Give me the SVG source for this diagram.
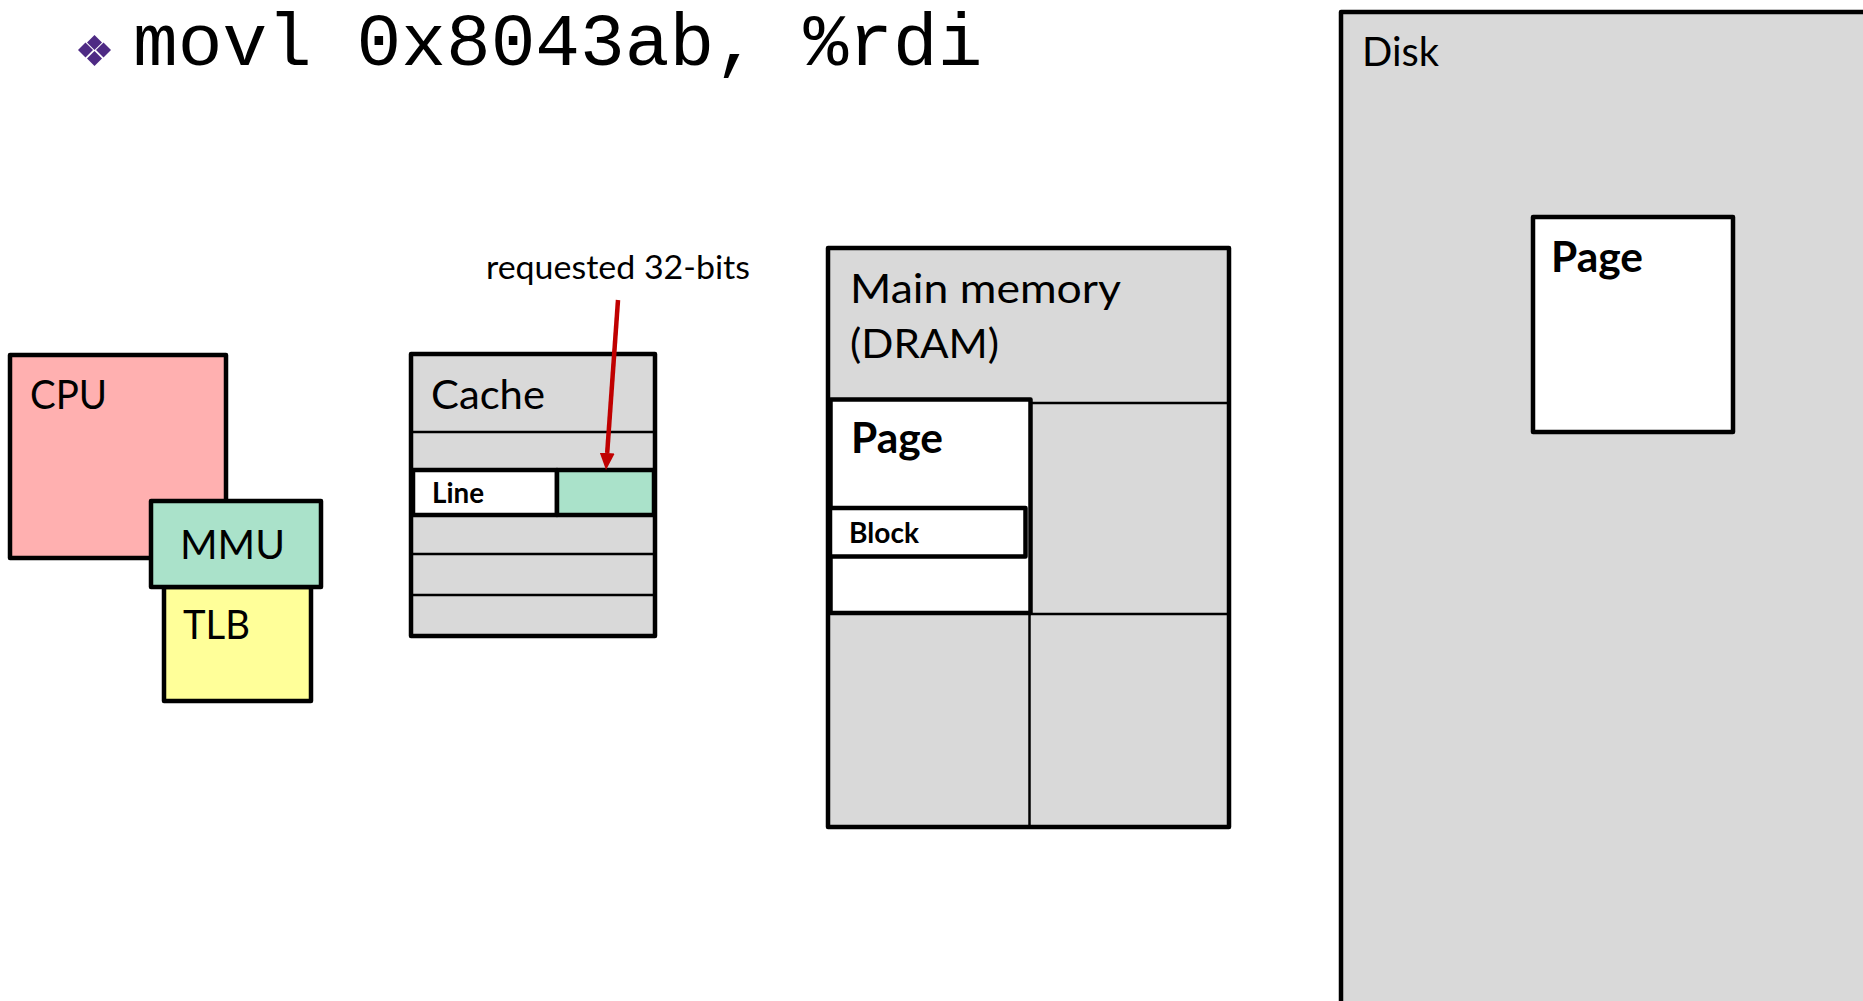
<svg xmlns="http://www.w3.org/2000/svg" width="1863" height="1001" viewBox="0 0 1863 1001">
<defs>
<style>
.box{stroke:#000;stroke-width:4.5;stroke-linejoin:round}
.thin{stroke:#000;stroke-width:2.5;fill:none}
.lbl{font-family:Lato,"Liberation Sans",sans-serif;font-size:41px;fill:#000}
.bld{font-family:Lato,"Liberation Sans",sans-serif;font-weight:bold;fill:#000}
.gray{fill:#D9D9D9}
.white{fill:#FFFFFF}
.mint{fill:#AAE2CA}
</style>
<marker id="ah" markerUnits="userSpaceOnUse" markerWidth="17" markerHeight="15" viewBox="0 0 17 15" refX="0" refY="7.5" orient="auto">
<path d="M0,0 L17,7.5 L0,15 z" fill="#C00000"/>
</marker>
</defs>
<rect width="1863" height="1001" fill="#FFFFFF"/>
<g id="title">
<g fill="#4E2A84">
<polygon points="94.5,35 102,42.5 94.5,50 87,42.5"/>
<polygon points="85.5,42.5 93,50 85.5,57.5 78,50"/>
<polygon points="103.5,42.5 111,50 103.5,57.5 96,50"/>
<polygon points="94.5,51 102,58.5 94.5,66 87,58.5"/>
</g>
<text x="133" y="65" font-family="'Liberation Mono','Courier New',monospace" font-size="74.5" fill="#000">movl 0x8043ab, %rdi</text>
</g>
<g id="disk">
<rect class="box gray" x="1341" y="12" width="600" height="1100"/>
<text class="lbl" x="1362" y="66" textLength="77" lengthAdjust="spacingAndGlyphs">Disk</text>
</g>
<g id="disk-page">
<rect class="box white" x="1533" y="217" width="200" height="215"/>
<text class="bld" x="1551" y="272" font-size="42" textLength="92" lengthAdjust="spacingAndGlyphs">Page</text>
</g>
<g id="cpu">
<rect class="box" fill="#FFB0B0" x="10" y="355" width="216" height="203"/>
<text class="lbl" x="30" y="409" textLength="77" lengthAdjust="spacingAndGlyphs">CPU</text>
</g>
<g id="tlb">
<rect class="box" fill="#FFFF99" x="164" y="587" width="147" height="114"/>
<text class="lbl" x="183" y="639" textLength="67" lengthAdjust="spacingAndGlyphs">TLB</text>
</g>
<g id="mmu">
<rect class="box mint" x="151" y="501" width="170" height="86"/>
<text class="lbl" x="180" y="559" textLength="105" lengthAdjust="spacingAndGlyphs">MMU</text>
</g>
<g id="cache">
<rect class="box gray" x="411" y="354" width="244" height="282"/>
<line class="thin" x1="411" y1="432" x2="655" y2="432"/>
<line class="thin" x1="411" y1="554" x2="655" y2="554"/>
<line class="thin" x1="411" y1="595" x2="655" y2="595"/>
<text class="lbl" x="431" y="409" textLength="114" lengthAdjust="spacingAndGlyphs">Cache</text>
</g>
<g id="cache-line">
<rect class="box white" x="413" y="470" width="144" height="45"/>
<text class="bld" x="432" y="503" font-size="28" textLength="52" lengthAdjust="spacingAndGlyphs">Line</text>
</g>
<g id="requested-32-bits">
<rect class="box mint" x="557" y="470" width="97" height="45"/>
</g>
<g id="main-memory">
<rect class="box gray" x="828" y="248" width="401" height="579"/>
<line class="thin" x1="1031" y1="403" x2="1229" y2="403"/>
<line class="thin" x1="1029" y1="614" x2="1229" y2="614"/>
<line class="thin" x1="1029.5" y1="614" x2="1029.5" y2="827"/>
<text class="lbl" x="850" y="303" textLength="271" lengthAdjust="spacingAndGlyphs">Main memory</text>
<text class="lbl" x="850" y="358" textLength="149" lengthAdjust="spacingAndGlyphs">(DRAM)</text>
</g>
<g id="mem-page">
<rect class="box white" x="830.5" y="399.5" width="200" height="213.5"/>
<text class="bld" x="851" y="453" font-size="42" textLength="92" lengthAdjust="spacingAndGlyphs">Page</text>
</g>
<g id="mem-block">
<rect class="box white" x="830" y="508" width="195.5" height="48.5"/>
<text class="bld" x="849" y="543" font-size="28" textLength="70" lengthAdjust="spacingAndGlyphs">Block</text>
</g>
<g id="connectors">
<line x1="618" y1="300" x2="607.2" y2="453" stroke="#C00000" stroke-width="4.5" marker-end="url(#ah)"/>
<text class="lbl" x="486" y="279" style="font-size:32px" textLength="264" lengthAdjust="spacingAndGlyphs">requested 32-bits</text>
</g>
</svg>
